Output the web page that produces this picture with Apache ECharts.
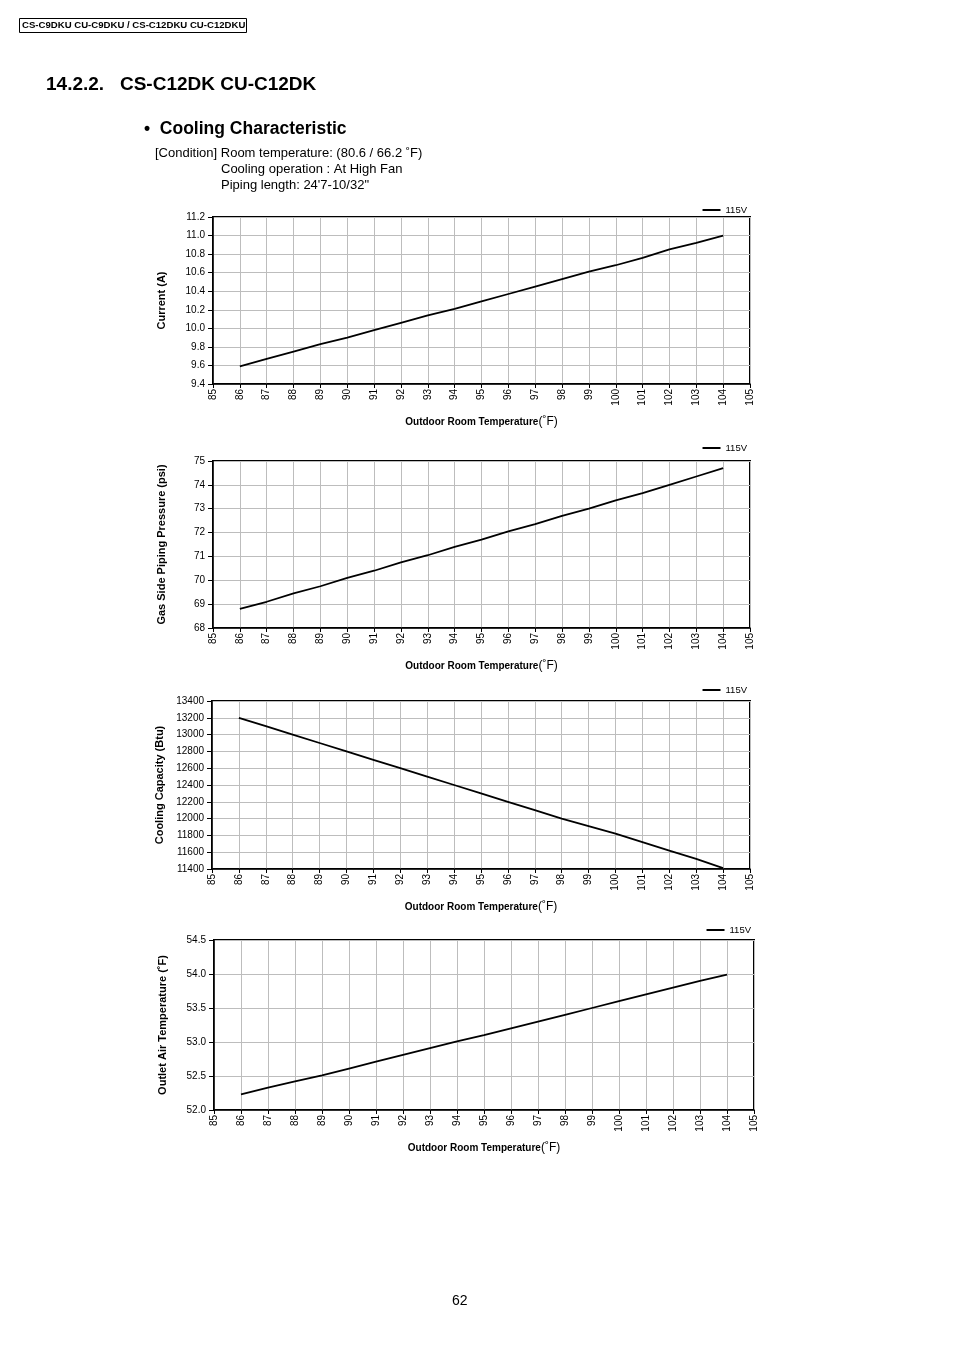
<!DOCTYPE html>
<html><head><meta charset="utf-8">
<script src="https://cdn.jsdelivr.net/npm/echarts@6/dist/echarts.min.js"></script>
<style>html,body{margin:0;padding:0;background:#fff}#c{width:954px;height:1351px}</style>
</head><body><div id="c"></div>
<script>
const temps = [86,87,88,89,90,91,92,93,94,95,96,97,98,99,100,101,102,103,104];
const currentA = [9.59,9.67,9.75,9.83,9.90,9.98,10.06,10.14,10.21,10.29,10.37,10.45,10.53,10.61,10.68,10.76,10.85,10.92,11.00];
const pressurePsi = [68.8,69.1,69.45,69.75,70.1,70.4,70.75,71.05,71.4,71.7,72.05,72.35,72.7,73.0,73.35,73.65,74.0,74.35,74.7];
const capacityBtu = [13200,13100,13000,12900,12800,12700,12600,12500,12400,12300,12200,12100,12000,11910,11820,11720,11620,11520,11410];
const outletF = [52.23,52.33,52.42,52.51,52.61,52.71,52.81,52.91,53.01,53.10,53.20,53.30,53.40,53.50,53.60,53.70,53.80,53.90,53.99];

const panels = [
  {data: currentA, yName: 'Current (A)', min: 9.4, max: 11.2, step: 0.2, dec: 1,
   left: 213, top: 217, width: 537, height: 167, legendTop: 200},
  {data: pressurePsi, yName: 'Gas Side Piping Pressure (psi)', min: 68, max: 75, step: 1, dec: 0,
   left: 213, top: 461, width: 537, height: 167, legendTop: 438},
  {data: capacityBtu, yName: 'Cooling Capacity (Btu)', min: 11400, max: 13400, step: 200, dec: 0,
   left: 212, top: 701, width: 538, height: 168, legendTop: 680},
  {data: outletF, yName: 'Outlet Air Temperature (˚F)', min: 52.0, max: 54.5, step: 0.5, dec: 1,
   left: 214, top: 940, width: 540, height: 170, legendTop: 920}
];

const FONT = 'Liberation Sans, Arial, sans-serif';
const grids = [], xAxes = [], yAxes = [], series = [], legends = [];
panels.forEach((p, i) => {
  grids.push({left: p.left, top: p.top, width: p.width, height: p.height,
    show: true, borderColor: '#000', borderWidth: 2, backgroundColor: 'transparent'});
  xAxes.push({type: 'value', gridIndex: i, min: 85, max: 105, interval: 1,
    axisLine: {lineStyle: {color: '#000', width: 1.5}},
    axisTick: {show: true, length: 4, lineStyle: {color: '#000'}},
    axisLabel: {rotate: 90, color: '#000', fontSize: 10, fontFamily: FONT, margin: 5},
    splitLine: {show: true, lineStyle: {color: '#bdbdbd', width: 1}},
    name: '{b|Outdoor Room Temperature}{n|(˚F)}', nameLocation: 'middle', nameGap: 32,
    nameTextStyle: {rich: {
      b: {fontSize: 10, fontWeight: 'bold', fontFamily: FONT, color: '#000'},
      n: {fontSize: 12, fontFamily: FONT, color: '#000'}}}
  });
  yAxes.push({type: 'value', gridIndex: i, min: p.min, max: p.max, interval: p.step,
    axisLine: {show: true, lineStyle: {color: '#000', width: 1.5}},
    axisTick: {show: true, length: 5, lineStyle: {color: '#000'}},
    axisLabel: {color: '#000', fontSize: 10, fontFamily: FONT, margin: 8,
      formatter: v => v.toFixed(p.dec)},
    splitLine: {show: true, lineStyle: {color: '#bdbdbd', width: 1}},
    name: p.yName, nameLocation: 'middle', nameRotate: 90, nameGap: 46,
    nameTextStyle: {fontSize: 11, fontWeight: 'bold', fontFamily: FONT, color: '#000'}
  });
  series.push({type: 'line', name: '115V', xAxisIndex: i, yAxisIndex: i,
    data: temps.map((t, k) => [t, p.data[k]]),
    showSymbol: false, symbol: 'none', lineStyle: {color: '#000', width: 1.8}, itemStyle: {color: '#000'},
    animation: false});
  legends.push({data: ['115V'], right: 954 - (p.left + p.width) - 2, top: p.legendTop,
    icon: 'rect', itemWidth: 18, itemHeight: 2, itemGap: 4,
    textStyle: {fontSize: 9.5, fontFamily: FONT, color: '#000'}, selectedMode: false});
});

const chart = echarts.init(document.getElementById('c'));
chart.setOption({
  animation: false,
  grid: grids, xAxis: xAxes, yAxis: yAxes, series: series, legend: legends,
  graphic: [
    {type: 'rect', shape: {x: 19.5, y: 18.5, width: 227, height: 14}, style: {fill: 'none', stroke: '#000', lineWidth: 1}},
    {type: 'text', left: 22, top: 20, style: {text: 'CS-C9DKU CU-C9DKU / CS-C12DKU CU-C12DKU', font: 'bold 9.6px ' + FONT, fill: '#000'}},
    {type: 'text', left: 46, top: 75, style: {text: '14.2.2.   CS-C12DK CU-C12DK', font: 'bold 19px ' + FONT, fill: '#000'}},
    {type: 'text', left: 144, top: 120, style: {text: '•  Cooling Characteristic', font: 'bold 17.5px ' + FONT, fill: '#000'}},
    {type: 'text', left: 155, top: 147, style: {text: '[Condition] Room temperature: (80.6 / 66.2 ˚F)', font: '13px ' + FONT, fill: '#000'}},
    {type: 'text', left: 221, top: 163, style: {text: 'Cooling operation : At High Fan', font: '13px ' + FONT, fill: '#000'}},
    {type: 'text', left: 221, top: 179, style: {text: 'Piping length: 24\'7-10/32"', font: '13px ' + FONT, fill: '#000'}},
    {type: 'text', left: 452, top: 1294, style: {text: '62', font: '14px ' + FONT, fill: '#000'}}
  ]
});
</script></body></html>
